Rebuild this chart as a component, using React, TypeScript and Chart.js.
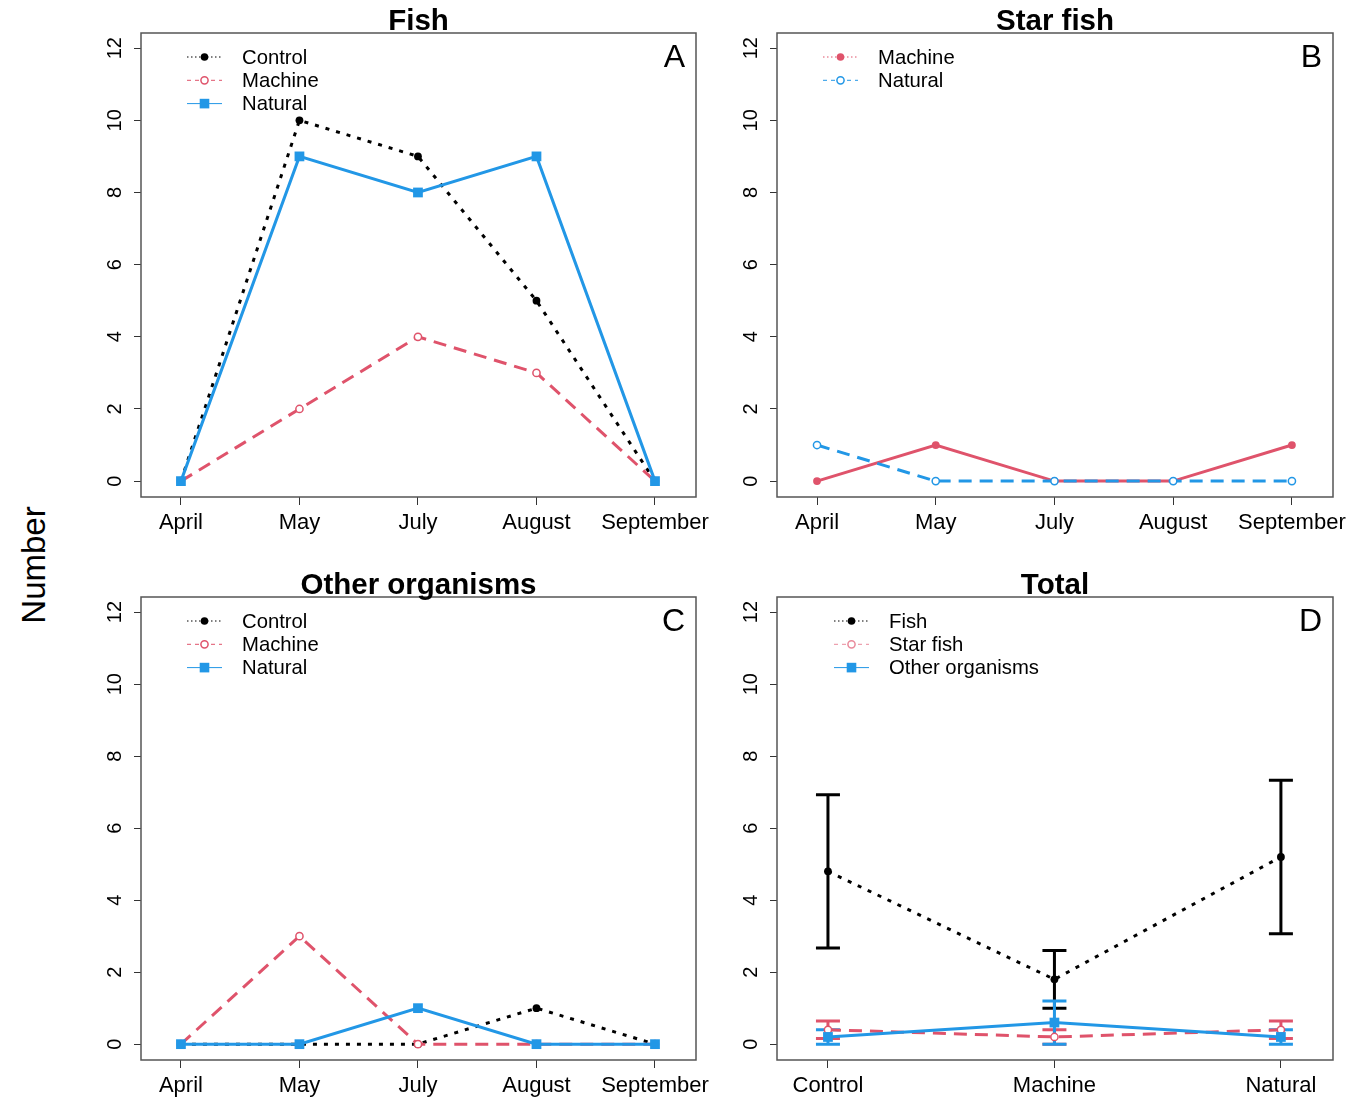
import React, { useEffect, useRef } from "react";
import { Chart, registerables } from "chart.js";

Chart.register(...registerables);

const FONT = '"Liberation Sans", Arial, Helvetica, sans-serif';
const BLACK = "#000000";
const RED = "#DF536B";
const BLUE = "#2297E6";

// ---------- data ----------
const months = ["April", "May", "July", "August", "September"];
const yTicks = [0, 2, 4, 6, 8, 10, 12];

const fishControl = [0, 10, 9, 5, 0];
const fishMachine = [0, 2, 4, 3, 0];
const fishNatural = [0, 9, 8, 9, 0];

const starMachine = [0, 1, 0, 0, 1];
const starNatural = [1, 0, 0, 0, 0];

const otherControl = [0, 0, 0, 1, 0];
const otherMachine = [0, 3, 0, 0, 0];
const otherNatural = [0, 0, 1, 0, 0];

const treatments = ["Control", "Machine", "Natural"];
const totalFish = [4.8, 1.8, 5.2];
const totalFishSE = [2.13, 0.8, 2.13];
const totalStar = [0.4, 0.2, 0.4];
const totalStarSE = [0.245, 0.2, 0.245];
const totalOther = [0.2, 0.6, 0.2];
const totalOtherSE = [0.2, 0.6, 0.2];

type Marker = "dot" | "open" | "square";
type Series = {
  label: string;
  values: number[];
  errors?: number[];
  color: string;
  dash: number[];
  marker: Marker;
  order: number;
};
type LegendItem = { label: string; color: string; dash: number[]; marker: Marker };
type PanelCfg = {
  key: string;
  title: string;
  letter: string;
  categories: string[];
  series: Series[];
  legend: LegendItem[];
  legendShift: number;
  canvas: { left: number; top: number; width: number; height: number };
  area: { left: number; top: number; right: number; bottom: number };
  xMin: number;
  xMax: number;
};

const DOT = [4, 7];
const DASH = [13, 8];
const SOLID: number[] = [];
const LDOT = [1.5, 2.5];
const LDASH = [4, 4];

function drawMarker(ctx: CanvasRenderingContext2D, m: Marker, color: string, x: number, y: number) {
  ctx.save();
  ctx.setLineDash([]);
  if (m === "dot") {
    ctx.fillStyle = color;
    ctx.beginPath();
    ctx.arc(x, y, 3.8, 0, Math.PI * 2);
    ctx.fill();
  } else if (m === "open") {
    ctx.fillStyle = "#ffffff";
    ctx.strokeStyle = color;
    ctx.lineWidth = 1.5;
    ctx.beginPath();
    ctx.arc(x, y, 3.6, 0, Math.PI * 2);
    ctx.fill();
    ctx.stroke();
  } else {
    ctx.fillStyle = color;
    ctx.fillRect(x - 4.8, y - 4.8, 9.6, 9.6);
  }
  ctx.restore();
}

function makePlugin(cfg: PanelCfg) {
  return {
    id: "decor_" + cfg.key,
    beforeDatasetsDraw(chart: any) {
      const ctx: CanvasRenderingContext2D = chart.ctx;
      const xs = chart.scales.x;
      const ys = chart.scales.y;
      cfg.series.forEach((s) => {
        if (!s.errors) return;
        ctx.save();
        ctx.strokeStyle = s.color;
        ctx.lineWidth = 3;
        ctx.setLineDash([]);
        ctx.lineCap = "butt";
        s.values.forEach((v, i) => {
          const e = s.errors![i];
          const x = xs.getPixelForValue(i + 1);
          const yt = ys.getPixelForValue(v + e);
          const yb = ys.getPixelForValue(v - e);
          ctx.beginPath();
          ctx.moveTo(x, yt);
          ctx.lineTo(x, yb);
          ctx.moveTo(x - 12, yt);
          ctx.lineTo(x + 12, yt);
          ctx.moveTo(x - 12, yb);
          ctx.lineTo(x + 12, yb);
          ctx.stroke();
        });
        ctx.restore();
      });
    },
    afterDraw(chart: any) {
      const ctx: CanvasRenderingContext2D = chart.ctx;
      const a = chart.chartArea;
      const ys = chart.scales.y;
      ctx.save();
      // box
      ctx.strokeStyle = "#555555";
      ctx.lineWidth = 1.5;
      ctx.setLineDash([]);
      ctx.strokeRect(a.left, a.top, a.right - a.left, a.bottom - a.top);
      // title
      ctx.fillStyle = "#000";
      ctx.font = "bold 29.5px " + FONT;
      ctx.textAlign = "center";
      ctx.textBaseline = "middle";
      ctx.fillText(cfg.title, (a.left + a.right) / 2, a.top - 11.5);
      // letter
      ctx.font = "32px " + FONT;
      ctx.textAlign = "right";
      ctx.fillText(cfg.letter, a.right - 11, a.top + 25);
      // y tick labels (rotated)
      ctx.font = "20px " + FONT;
      ctx.textAlign = "center";
      ctx.textBaseline = "middle";
      yTicks.forEach((v) => {
        const y = ys.getPixelForValue(v);
        ctx.save();
        ctx.translate(a.left - 26, y);
        ctx.rotate(-Math.PI / 2);
        ctx.fillText(String(v), 0, 0);
        ctx.restore();
      });
      // legend
      const lx = a.left + cfg.legendShift;
      cfg.legend.forEach((it, i) => {
        const y = a.top + 24 + i * 23.3;
        ctx.save();
        ctx.strokeStyle = it.color;
        ctx.lineWidth = 1;
        ctx.setLineDash(it.dash);
        ctx.beginPath();
        ctx.moveTo(lx + 46, y);
        ctx.lineTo(lx + 81, y);
        ctx.stroke();
        ctx.restore();
        drawMarker(ctx, it.marker, it.color, lx + 63.5, y);
        ctx.fillStyle = "#000";
        ctx.font = "20.3px " + FONT;
        ctx.textAlign = "left";
        ctx.textBaseline = "middle";
        ctx.fillText(it.label, lx + 101, y + 1);
      });
      ctx.restore();
    },
  };
}

function pointProps(m: Marker, color: string) {
  if (m === "dot")
    return { pointStyle: "circle", pointRadius: 3.9, pointBackgroundColor: color, pointBorderColor: color, pointBorderWidth: 0 };
  if (m === "open")
    return { pointStyle: "circle", pointRadius: 3.6, pointBackgroundColor: "#ffffff", pointBorderColor: color, pointBorderWidth: 1.5 };
  return { pointStyle: "rect", pointRadius: 6.9, pointBackgroundColor: color, pointBorderColor: color, pointBorderWidth: 0 };
}

function Panel({ cfg }: { cfg: PanelCfg }) {
  const ref = useRef<HTMLCanvasElement | null>(null);
  useEffect(() => {
    if (!ref.current) return;
    const { canvas, area, categories } = cfg;
    const chart = new Chart(ref.current, {
      type: "line",
      data: {
        datasets: cfg.series.map((s) => ({
          label: s.label,
          data: s.values.map((v, i) => ({ x: i + 1, y: v })),
          borderColor: s.color,
          borderWidth: 3,
          borderDash: s.dash,
          borderCapStyle: "butt",
          fill: false,
          tension: 0,
          order: s.order,
          ...pointProps(s.marker, s.color),
        })) as any,
      },
      options: {
        animation: false,
        responsive: false,
        devicePixelRatio: 1,
        layout: {
          padding: { left: 0, top: area.top, right: canvas.width - area.right, bottom: 0 },
        },
        plugins: { legend: { display: false }, title: { display: false }, tooltip: { enabled: false } },
        scales: {
          x: {
            type: "linear",
            min: cfg.xMin,
            max: cfg.xMax,
            offset: false,
            afterBuildTicks: (s: any) => {
              s.ticks = categories.map((_, i) => ({ value: i + 1 }));
            },
            afterFit: (s: any) => {
              s.height = canvas.height - area.bottom;
            },
            ticks: {
              autoSkip: false,
              maxRotation: 0,
              minRotation: 0,
              padding: 5,
              color: "#000",
              font: { family: FONT, size: 22 },
              callback: (v: any) => categories[Math.round(v) - 1] ?? "",
            },
            grid: { display: true, drawOnChartArea: false, drawTicks: true, tickLength: 8, color: "#333", lineWidth: 1 },
            border: { display: false },
          },
          y: {
            type: "linear",
            min: -0.44,
            max: 12.42,
            afterBuildTicks: (s: any) => {
              s.ticks = yTicks.map((v) => ({ value: v }));
            },
            afterFit: (s: any) => {
              s.width = area.left;
            },
            ticks: { display: false },
            grid: { display: true, drawOnChartArea: false, drawTicks: true, tickLength: 7, color: "#333", lineWidth: 1 },
            border: { display: false },
          },
        },
      } as any,
      plugins: [makePlugin(cfg)],
    });
    return () => chart.destroy();
  }, [cfg]);
  return (
    <canvas
      ref={ref}
      width={cfg.canvas.width}
      height={cfg.canvas.height}
      style={{
        position: "absolute",
        left: cfg.canvas.left,
        top: cfg.canvas.top,
        width: cfg.canvas.width,
        height: cfg.canvas.height,
      }}
    />
  );
}

const monthXMin = 0.663;
const monthXMax = 5.346;

const panels: PanelCfg[] = [
  {
    key: "A",
    title: "Fish",
    letter: "A",
    categories: months,
    series: [
      { label: "Control", values: fishControl, color: BLACK, dash: DOT, marker: "dot", order: 2 },
      { label: "Machine", values: fishMachine, color: RED, dash: DASH, marker: "open", order: 1 },
      { label: "Natural", values: fishNatural, color: BLUE, dash: SOLID, marker: "square", order: 0 },
    ],
    legend: [
      { label: "Control", color: BLACK, dash: LDOT, marker: "dot" },
      { label: "Machine", color: RED, dash: LDASH, marker: "open" },
      { label: "Natural", color: BLUE, dash: [], marker: "square" },
    ],
    legendShift: 0,
    canvas: { left: 60, top: 0, width: 680, height: 550 },
    area: { left: 81, top: 33, right: 636, bottom: 497 },
    xMin: monthXMin,
    xMax: monthXMax,
  },
  {
    key: "B",
    title: "Star fish",
    letter: "B",
    categories: months,
    series: [
      { label: "Machine", values: starMachine, color: RED, dash: SOLID, marker: "dot", order: 1 },
      { label: "Natural", values: starNatural, color: BLUE, dash: DASH, marker: "open", order: 0 },
    ],
    legend: [
      { label: "Machine", color: RED, dash: LDOT, marker: "dot" },
      { label: "Natural", color: BLUE, dash: LDASH, marker: "open" },
    ],
    legendShift: 0,
    canvas: { left: 700, top: 0, width: 657, height: 550 },
    area: { left: 77, top: 33, right: 633, bottom: 497 },
    xMin: monthXMin,
    xMax: monthXMax,
  },
  {
    key: "C",
    title: "Other organisms",
    letter: "C",
    categories: months,
    series: [
      { label: "Control", values: otherControl, color: BLACK, dash: DOT, marker: "dot", order: 2 },
      { label: "Machine", values: otherMachine, color: RED, dash: DASH, marker: "open", order: 1 },
      { label: "Natural", values: otherNatural, color: BLUE, dash: SOLID, marker: "square", order: 0 },
    ],
    legend: [
      { label: "Control", color: BLACK, dash: LDOT, marker: "dot" },
      { label: "Machine", color: RED, dash: LDASH, marker: "open" },
      { label: "Natural", color: BLUE, dash: [], marker: "square" },
    ],
    legendShift: 0,
    canvas: { left: 60, top: 560, width: 680, height: 537 },
    area: { left: 81, top: 37, right: 636, bottom: 500 },
    xMin: monthXMin,
    xMax: monthXMax,
  },
  {
    key: "D",
    title: "Total",
    letter: "D",
    categories: treatments,
    series: [
      { label: "Fish", values: totalFish, errors: totalFishSE, color: BLACK, dash: DOT, marker: "dot", order: 2 },
      { label: "Star fish", values: totalStar, errors: totalStarSE, color: RED, dash: DASH, marker: "open", order: 1 },
      { label: "Other organisms", values: totalOther, errors: totalOtherSE, color: BLUE, dash: SOLID, marker: "square", order: 0 },
    ],
    legend: [
      { label: "Fish", color: BLACK, dash: LDOT, marker: "dot" },
      { label: "Star fish", color: "#E98A9B", dash: LDASH, marker: "open" },
      { label: "Other organisms", color: BLUE, dash: [], marker: "square" },
    ],
    legendShift: 11,
    canvas: { left: 700, top: 560, width: 657, height: 537 },
    area: { left: 77, top: 37, right: 633, bottom: 500 },
    xMin: 0.775,
    xMax: 3.23,
  },
];

export default function App() {
  return (
    <div
      style={{
        position: "fixed",
        left: 0,
        top: 0,
        width: 1357,
        height: 1097,
        background: "#ffffff",
        overflow: "hidden",
        fontFamily: FONT,
      }}
    >
      {panels.map((p) => (
        <Panel key={p.key} cfg={p} />
      ))}
      <div
        style={{
          position: "absolute",
          left: 33,
          top: 565,
          transform: "translate(-50%, -50%) rotate(-90deg)",
          fontSize: 33,
          fontFamily: FONT,
          color: "#000",
          whiteSpace: "nowrap",
          lineHeight: 1,
        }}
      >
        Number
      </div>
    </div>
  );
}
